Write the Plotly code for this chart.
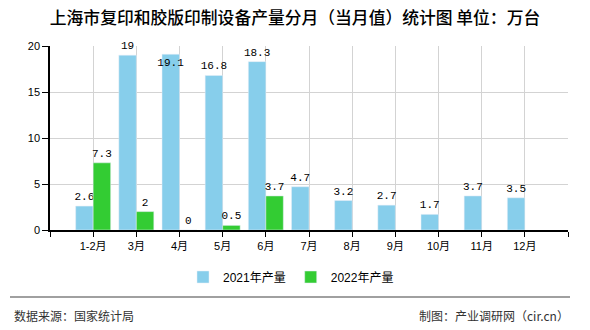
import plotly.graph_objects as go

months = ["1-2月", "3月", "4月", "5月", "6月", "7月", "8月", "9月", "10月", "11月", "12月"]
vals_2021 = [2.6, 19, 19.1, 16.8, 18.3, 4.7, 3.2, 2.7, 1.7, 3.7, 3.5]
vals_2022 = [7.3, 2, 0, 0.5, 3.7, None, None, None, None, None, None]
name_2021 = "2021年产量"
name_2022 = "2022年产量"
title_text = "上海市复印和胶版印制设备产量分月（当月值）统计图\u00a0单位：万台"
source_left = "数据来源：国家统计局"
source_right = "制图：产业调研网（cir.cn）"

W, H = 590, 330
L, R, T, B = 50, 22, 46, 100
pw, ph = W - L - R, H - T - B


def px(x):
    return (x - L) / pw


def py(y):
    return (H - B - y) / ph


xpos = list(range(len(months)))
text_pos_2021 = ["inside" if v > 19 else "outside" for v in vals_2021]

fig = go.Figure()
fig.add_trace(go.Bar(
    x=xpos, y=vals_2021, name=name_2021, marker_color="#87CEEB",
    text=[str(v) for v in vals_2021], textposition=text_pos_2021,
    insidetextanchor="end", constraintext="none", textangle=0,
    textfont=dict(family="Liberation Mono", size=11, color="#000"),
    cliponaxis=False,
))
fig.add_trace(go.Bar(
    x=xpos, y=vals_2022, name=name_2022, marker_color="#33CC33",
    text=[("" if v is None else str(v)) for v in vals_2022], textposition="outside",
    constraintext="none", textangle=0,
    textfont=dict(family="Liberation Mono", size=11, color="#000"),
    cliponaxis=False,
))

fig.update_layout(
    width=W, height=H,
    margin=dict(l=L, r=R, t=T, b=B),
    paper_bgcolor="white", plot_bgcolor="white",
    barmode="group", bargap=0.19, bargroupgap=0,
    showlegend=True,
    legend=dict(orientation="h", x=px(291), y=py(277), xanchor="center", yanchor="middle",
                font=dict(family="Liberation Sans, Noto Sans CJK SC", size=12, color="#000"),
                itemwidth=30),
    title=dict(text=title_text, x=px(295), xanchor="center", xref="paper", y=1 - 18 / H, yanchor="middle",
               font=dict(family="Noto Sans CJK SC", size=16.8, color="#000", weight=500)),
    font=dict(family="Liberation Sans, Noto Sans CJK SC"),
)
fig.update_xaxes(
    range=[-1, len(months)],
    tickmode="array",
    tickvals=list(range(-1, len(months) + 1)),
    ticktext=[""] + months + [""],
    showgrid=True, gridcolor="#d3d3d3", gridwidth=1,
    showline=True, linecolor="#000", linewidth=1.5,
    ticks="outside", ticklen=5, tickcolor="#000",
    tickfont=dict(family="Liberation Sans, Noto Sans CJK SC", size=11, color="#000"),
    zeroline=False,
)
fig.update_yaxes(
    range=[0, 20],
    tickvals=[0, 5, 10, 15, 20],
    showgrid=True, gridcolor="#d3d3d3", gridwidth=1,
    showline=True, linecolor="#000", linewidth=1.5,
    ticks="outside", ticklen=6, tickcolor="#000",
    tickfont=dict(family="Liberation Sans", size=11, color="#000"),
    zeroline=False,
)

fig.add_shape(type="line", xref="paper", yref="paper",
              x0=px(10), x1=px(570), y0=py(297), y1=py(297),
              line=dict(color="#808080", width=1.5))
fig.add_annotation(text=source_left, xref="paper", yref="paper", x=px(12), y=py(315),
                   xanchor="left", yanchor="middle", showarrow=False,
                   font=dict(family="Noto Sans CJK SC", size=12, color="#333"))
fig.add_annotation(text=source_right, xref="paper", yref="paper", x=px(571), y=py(315),
                   xanchor="right", yanchor="middle", showarrow=False,
                   font=dict(family="Noto Sans CJK SC", size=12, color="#333"))

fig.write_html("out.html")
